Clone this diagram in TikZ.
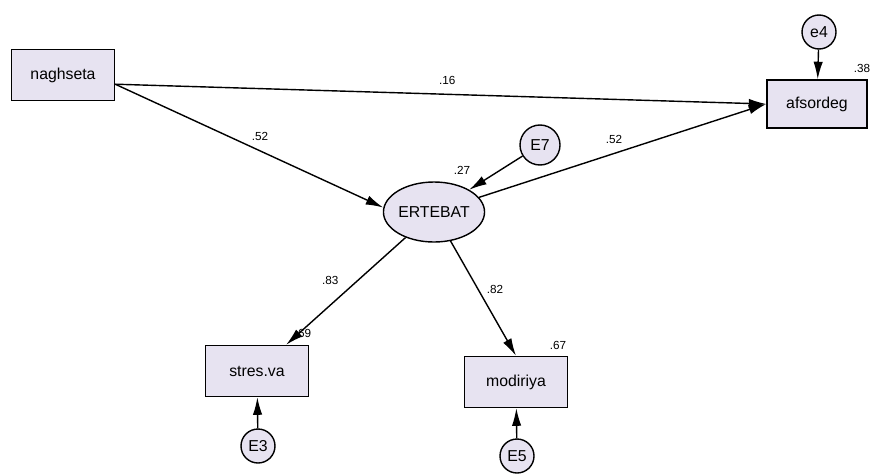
\documentclass[tikz,border=0pt]{standalone}
\usepackage{fontspec}
\setmainfont{Liberation Sans}
\usetikzlibrary{shapes.geometric, positioning, arrows.meta}
\definecolor{boxfill}{RGB}{231,227,241}

\begin{document}
\begin{tikzpicture}
	[x=0.03cm, y=-0.03cm, line width=1.2pt, >={Latex[length=15pt,width=8pt]},
	 obs/.style={draw, fill=boxfill, minimum width=3.09cm, minimum height=1.53cm,
	   font=\fontsize{13.5}{16}\selectfont},
	 latent/.style={ellipse, draw, fill=boxfill, minimum width=2.94cm, minimum height=1.8cm,
	   inner sep=0pt, font=\fontsize{13.5}{16}\selectfont},
	 err/.style={circle, draw, fill=boxfill, minimum size=1.02cm, inner sep=0pt,
	   font=\fontsize{13.5}{16}\selectfont},
	 coef/.style={font=\fontsize{10}{12}\selectfont, inner sep=1pt}]
   \useasboundingbox (0,0) rectangle (871,473);

   \node[obs] (naghseta) at (63,75) {naghseta};
   \node[obs, minimum width=3cm, minimum height=1.44cm] (afsordeg) at (817,104) {afsordeg};
   \node[latent] (ertebat) at (434,212) {ERTEBAT};
   \node[obs] (stresva) at (257,371) {stres.va};
   \node[obs] (modiriya) at (516,382) {modiriya};
   \node[err] (e4) at (819,32) {e4};
   \node[err, minimum size=1.2cm] (e7) at (540,145) {E7};
   \node[err] (e3) at (258,446) {E3};
   \node[err] (e5) at (517,456) {E5};

   % squared multiple correlations
   \node[coef] (r2afsordeg) at (862,68) {.38};
   \node[coef] (r2ertebat) at (462,170) {.27};
   \node[coef] (r2stresva) at (303,333) {.69};
   \node[coef] (r2modiriya) at (558,345) {.67};

    \path[->]
    (naghseta.350)
          edge node[coef, pos=.51, above=7pt] {.16} (afsordeg.west)
          edge node[coef, pos=.54, above=7pt] {.52} (ertebat.175)
    (ertebat)
          edge node[coef, pos=.47, above=7pt] {.52} (afsordeg.west)
          edge node[coef, pos=.40, left=15pt] {.83} (stresva)
          edge node[coef, pos=.42, right=6pt] {.82} (modiriya.north)
    (e7) edge (ertebat)
    (e4) edge (afsordeg)
    (e3) edge (stresva)
    (e5) edge (modiriya);

\end{tikzpicture}
\end{document}
